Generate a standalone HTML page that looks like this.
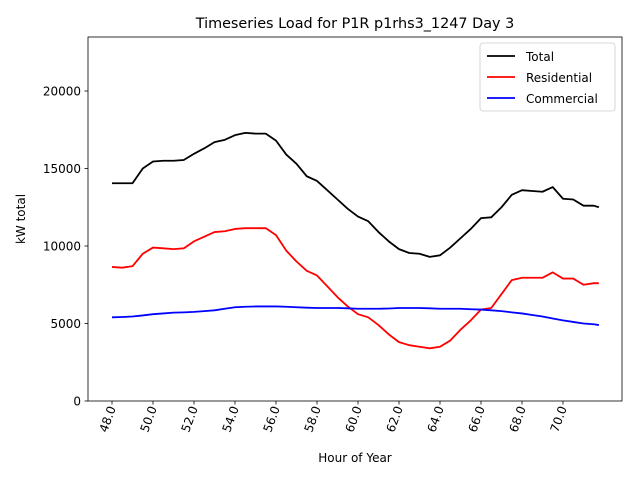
<!DOCTYPE html>
<html><head><meta charset="utf-8"><style>
body{margin:0;background:#fff;}
svg text{font-family:"DejaVu Sans","Liberation Sans",sans-serif;fill:#000;}
</style></head><body>
<svg id="chart" width="640" height="480" xmlns="http://www.w3.org/2000/svg">
<rect width="640" height="480" fill="#fff"/>
<text x="355" y="28" font-size="14.4" text-anchor="middle">Timeseries Load for P1R p1rhs3_1247  Day 3</text>
<g id="plot"></g>
<rect x="88" y="37" width="534" height="364" fill="none" stroke="#000" stroke-width="0.8"/>
<text x="355" y="462" font-size="12" text-anchor="middle">Hour of Year</text>
<text transform="translate(25,219) rotate(-90)" font-size="12" text-anchor="middle">kW total</text>
<g>
<rect x="480" y="43" width="135" height="68" rx="3" fill="#fff" stroke="#ccc" stroke-width="0.8"/>
<line x1="487" y1="56" x2="515" y2="56" stroke="#000" stroke-width="1.8"/>
<text x="526" y="61" font-size="12">Total</text>
<line x1="487" y1="77" x2="515" y2="77" stroke="#f00" stroke-width="1.8"/>
<text x="526" y="82" font-size="12">Residential</text>
<line x1="487" y1="98" x2="515" y2="98" stroke="#00f" stroke-width="1.8"/>
<text x="526" y="103" font-size="12">Commercial</text>
</g>
</svg>
<script>
const hours=[48,48.5,49,49.5,50,50.5,51,51.5,52,52.5,53,53.5,54,54.5,55,55.5,56,56.5,57,57.5,58,58.5,59,59.5,60,60.5,61,61.5,62,62.5,63,63.5,64,64.5,65,65.5,66,66.5,67,67.5,68,68.5,69,69.5,70,70.5,71,71.5,71.75];
const total=[14050,14050,14050,15000,15450,15500,15500,15550,15950,16300,16700,16850,17150,17300,17250,17250,16800,15900,15300,14500,14200,13600,13000,12400,11900,11600,10900,10300,9800,9550,9500,9300,9400,9900,10500,11100,11800,11850,12500,13300,13600,13550,13500,13800,13050,13000,12600,12600,12500];
const residential=[8650,8600,8700,9500,9900,9850,9800,9850,10300,10600,10900,10950,11100,11150,11150,11150,10700,9700,9000,8400,8100,7400,6700,6100,5600,5400,4900,4300,3800,3600,3500,3400,3500,3900,4600,5200,5900,6000,6900,7800,7950,7950,7950,8300,7900,7900,7500,7600,7600];
const commercial=[5400,5420,5450,5520,5600,5650,5700,5720,5750,5800,5850,5950,6050,6080,6100,6100,6100,6080,6050,6020,6000,6000,6000,5980,5950,5950,5950,5970,6000,6000,6000,5980,5950,5950,5950,5920,5900,5850,5800,5720,5650,5550,5450,5320,5200,5100,5000,4950,4900];
const xTicks=[48,50,52,54,56,58,60,62,64,66,68,70];
const yTicks=[0,5000,10000,15000,20000];
const X=h=>112+(h-48)*20.5;
const Y=v=>401-v*77.5/5000;
const NS='http://www.w3.org/2000/svg';
const g=document.getElementById('plot');
function mk(t,a){const e=document.createElementNS(NS,t);for(const k in a)e.setAttribute(k,a[k]);g.appendChild(e);return e;}
yTicks.forEach(v=>{
 const l=mk('line',{x1:84.5,x2:88,y1:Y(v),y2:Y(v),stroke:'#000','stroke-width':0.8});
 
 
 const t=mk('text',{x:81,y:Y(v)+4.5,'font-size':12,'text-anchor':'end'});
 t.textContent=v;
 
 
});
xTicks.forEach(h=>{
 const l=mk('line',{x1:X(h),x2:X(h),y1:401,y2:404.5,stroke:'#000','stroke-width':0.8});
 
 
 const t=mk('text',{transform:`translate(${X(h)+4},408) rotate(-70)`,'font-size':12,'text-anchor':'end'});
 t.textContent=h.toFixed(1);
 
 
});
[[total,'#000','total-line'],[residential,'#f00','residential-line'],[commercial,'#00f','commercial-line']].forEach(([s,c,n])=>{
 const p=mk('polyline',{points:s.map((v,i)=>X(hours[i])+','+Y(v)).join(' '),fill:'none',stroke:c,'stroke-width':1.8,'stroke-linejoin':'round'});
 
 
});
</script>
</body></html>
